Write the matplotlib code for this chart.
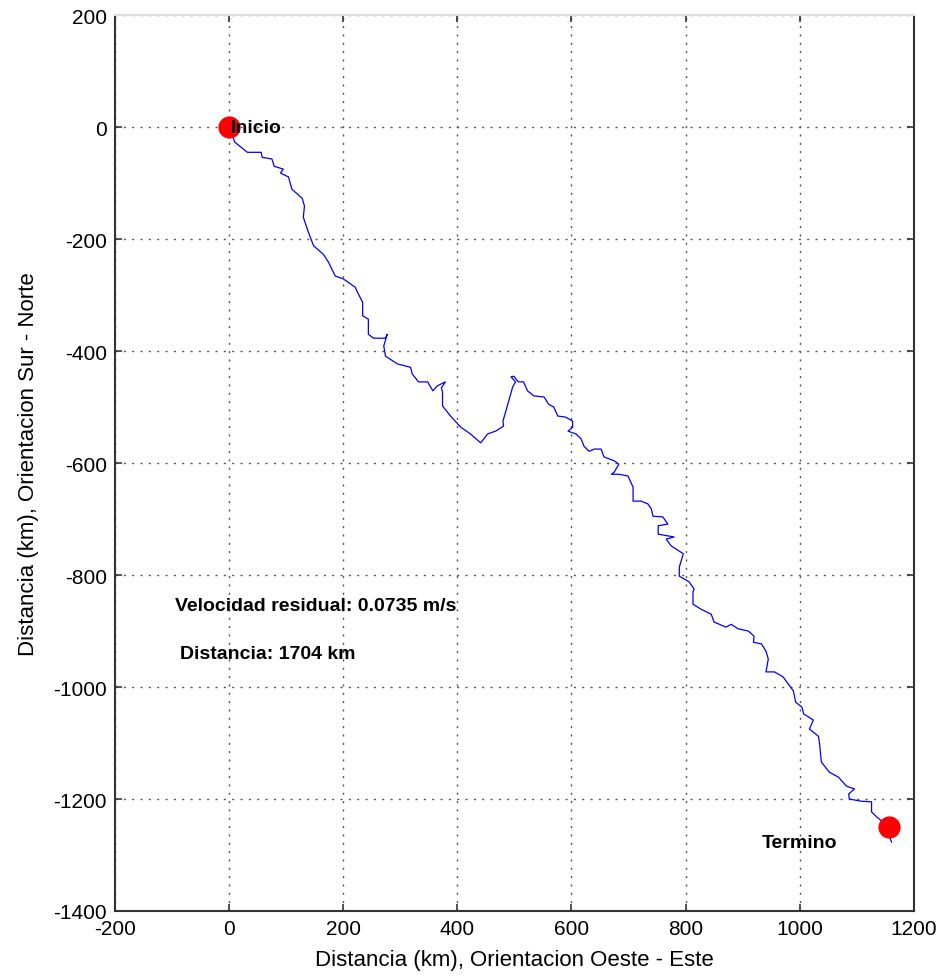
import numpy as np
import matplotlib.pyplot as plt

# trayectoria del derivador (km), este-oeste / norte-sur
x_km = [0, 10, 32, 56, 58, 75, 79, 95, 90, 104, 110, 128, 132, 130, 139, 148, 165, 174,
        186, 200, 221, 225, 234, 234, 244, 244, 253, 274, 277, 271, 274, 295, 318, 321,
        332, 348, 357, 365, 379, 372, 374, 374, 388, 406, 423, 441, 453, 467, 481, 480,
        485, 490, 497, 502, 494, 499, 507, 516, 523, 534, 552, 560, 569, 576, 590, 602,
        602, 594, 608, 617, 622, 631, 640, 652, 657, 675, 683, 675, 670, 683, 699, 704,
        708, 708, 722, 734, 740, 743, 760, 769, 752, 752, 780, 766, 775, 796, 789, 789,
        806, 815, 813, 813, 827, 845, 850, 871, 880, 892, 910, 920, 919, 933, 941, 945,
        941, 956, 971, 989, 993, 1004, 1007, 1024, 1017, 1033, 1035, 1038, 1052, 1068,
        1082, 1096, 1086, 1087, 1108, 1126, 1126, 1135, 1140, 1149, 1161]
y_km = [0, -27, -45, -45, -54, -57, -70, -75, -82, -89, -111, -127, -141, -161, -188, -212,
        -227, -241, -266, -271, -286, -295, -313, -337, -343, -370, -377, -377, -370, -391,
        -409, -423, -429, -441, -455, -455, -471, -462, -455, -466, -473, -498, -516, -536,
        -548, -564, -548, -543, -534, -525, -507, -489, -464, -455, -446, -445, -455, -455,
        -471, -480, -482, -495, -500, -516, -518, -525, -536, -543, -548, -557, -570, -579,
        -575, -575, -589, -596, -602, -616, -620, -620, -623, -634, -643, -668, -668, -673,
        -682, -695, -696, -709, -712, -727, -732, -736, -748, -762, -786, -802, -812, -825,
        -830, -852, -861, -870, -884, -893, -888, -896, -900, -909, -920, -923, -936, -950,
        -973, -973, -982, -1007, -1027, -1036, -1048, -1059, -1075, -1088, -1102, -1134,
        -1152, -1161, -1177, -1182, -1191, -1200, -1204, -1205, -1223, -1232, -1236, -1245,
        -1277]

inicio = (0, 0)
termino = (1156, -1250)

plt.rcParams['font.family'] = ['Liberation Sans', 'DejaVu Sans']
plt.rcParams['axes.unicode_minus'] = False

fig = plt.figure(figsize=(9.43, 9.78), dpi=100)
ax = fig.add_axes([0.122, 0.0675, 0.847, 0.916])

ax.plot(x_km, y_km, color='#0000ff', linewidth=0.9)
ax.plot(*inicio, 'o', color='#ff0000', markersize=16, markeredgewidth=0)
ax.plot(*termino, 'o', color='#ff0000', markersize=16, markeredgewidth=0)

ax.text(2, 0, 'Inicio', fontsize=14, fontweight='bold', ha='left', va='center')
ax.text(933, -1277, 'Termino', fontsize=14, fontweight='bold', ha='left', va='center')
ax.text(-95, -855, 'Velocidad residual: 0.0735 m/s', fontsize=14, fontweight='bold',
        ha='left', va='center')
ax.text(-86, -941, 'Distancia: 1704 km', fontsize=14, fontweight='bold',
        ha='left', va='center')

ax.set_xlim(-200, 1200)
ax.set_ylim(-1400, 200)
ax.set_xticks(np.arange(-200, 1201, 200))
ax.set_yticks(np.arange(-1400, 201, 200))
ax.grid(True, color='#555555', linestyle=(0, (1.5, 4.5)), linewidth=1)
ax.tick_params(direction='in', length=5, width=1.2, labelsize=15, color='#333333',
               top=True, right=True, pad=6)
for side in ['left', 'bottom', 'right']:
    ax.spines[side].set_color('#333333')
    ax.spines[side].set_linewidth(1.5)
ax.spines['top'].set_color('#dddddd')
ax.spines['top'].set_linewidth(1.5)

ax.set_xlabel('Distancia (km), Orientacion Oeste - Este', fontsize=16, labelpad=8)
ax.set_ylabel('Distancia (km), Orientacion Sur - Norte', fontsize=16, labelpad=10)

fig.savefig('out.png', dpi=100)
